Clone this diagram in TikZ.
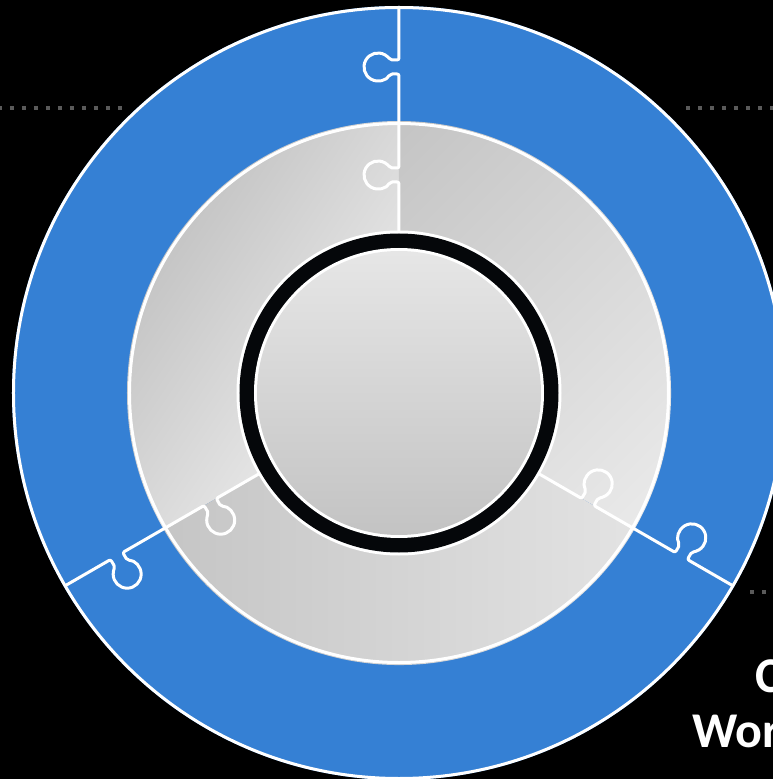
\documentclass[tikz,border=0pt]{standalone}
\usepackage{fontspec}
\setmainfont{Carlito}
\definecolor{ringblue}{HTML}{3580D4}
\definecolor{ringblack}{HTML}{05070A}
\definecolor{dotgray}{HTML}{5A5A5A}
\definecolor{gA}{HTML}{C5C5C5}
\definecolor{gB}{HTML}{E9E9E9}
\definecolor{gC}{HTML}{C4C4C4}
\definecolor{gD}{HTML}{EAEAEA}
\definecolor{gE}{HTML}{E3E3E3}
\definecolor{innertop}{HTML}{E6E6E6}
\definecolor{innerbot}{HTML}{C3C3C3}
\tikzset{
  seam/.style={draw=white, line width=3pt, rounded corners=2pt, line join=round},
  rim/.style={draw=white, line width=3pt},
  dotline/.style={draw=dotgray, line width=4pt, dash pattern=on 4pt off 8pt},
  lbl/.style={text=white, font=\bfseries\fontsize{50}{50}\selectfont, inner sep=0pt}
}
\begin{document}
\begin{tikzpicture}[x=1pt,y=1pt]
\useasboundingbox (-399,-386) rectangle (374,393);
\fill[black] (-399,-386) rectangle (374,393);
% dotted guide lines
\coordinate (d1a) at (-401,285); \coordinate (d1b) at (-277,285);
\coordinate (d2a) at (287,285);  \coordinate (d2b) at (376,285);
\coordinate (d3a) at (351,-199); \coordinate (d3b) at (376,-199);
\draw[dotline] (d1a) -- (d1b);
\draw[dotline] (d2a) -- (d2b);
\draw[dotline] (d3a) -- (d3b);
% blue outer ring
\fill[ringblue] (0,0) circle (387);
\draw[rim] (0,0) circle (385.5);
% gray sectors
\begin{scope}
  \clip (0,0) -- (90:272) arc[start angle=90, end angle=210, radius=272] -- cycle;
  \shade[transform canvas={rotate=-33.5}, left color=gA, right color=gB] (-272,-420) rectangle (-40,420);
\end{scope}
\begin{scope}
  \clip (0,0) -- (-30:272) arc[start angle=-30, end angle=90, radius=272] -- cycle;
  \shade[transform canvas={rotate=-45}, left color=gC, right color=gD] (-195,-420) rectangle (272,420);
\end{scope}
\begin{scope}
  \clip (0,0) -- (210:272) arc[start angle=210, end angle=330, radius=272] -- cycle;
  \shade[left color=gA, right color=gE] (-240,-280) rectangle (240,10);
\end{scope}
\draw[rim] (0,0) circle (269.5);
% center black ring and disc
\fill[white] (0,0) circle (162.5);
\fill[ringblack] (0,0) circle (159.5);
\fill[white] (0,0) circle (145);
\shade[top color=innertop, bottom color=innerbot] (0,0) circle (142);
% puzzle seams
\foreach \a in {90,-30,210}{
  \begin{scope}[rotate=\a]
    \draw[seam] (162,0) -- (211,0) -- (211,8.88)
      arc[start angle=240, end angle=-60, radius=14] -- (225,0)
      -- (319,0) -- (319,8.88)
      arc[start angle=240, end angle=-60, radius=14] -- (333,0)
      -- (386,0);
  \end{scope}
}
% text
\node[lbl, anchor=base west] (t1) at (356.5,-299) {C};
\node[lbl, anchor=base west] (t2) at (293,-354) {Wor};
\end{tikzpicture}
\end{document}
